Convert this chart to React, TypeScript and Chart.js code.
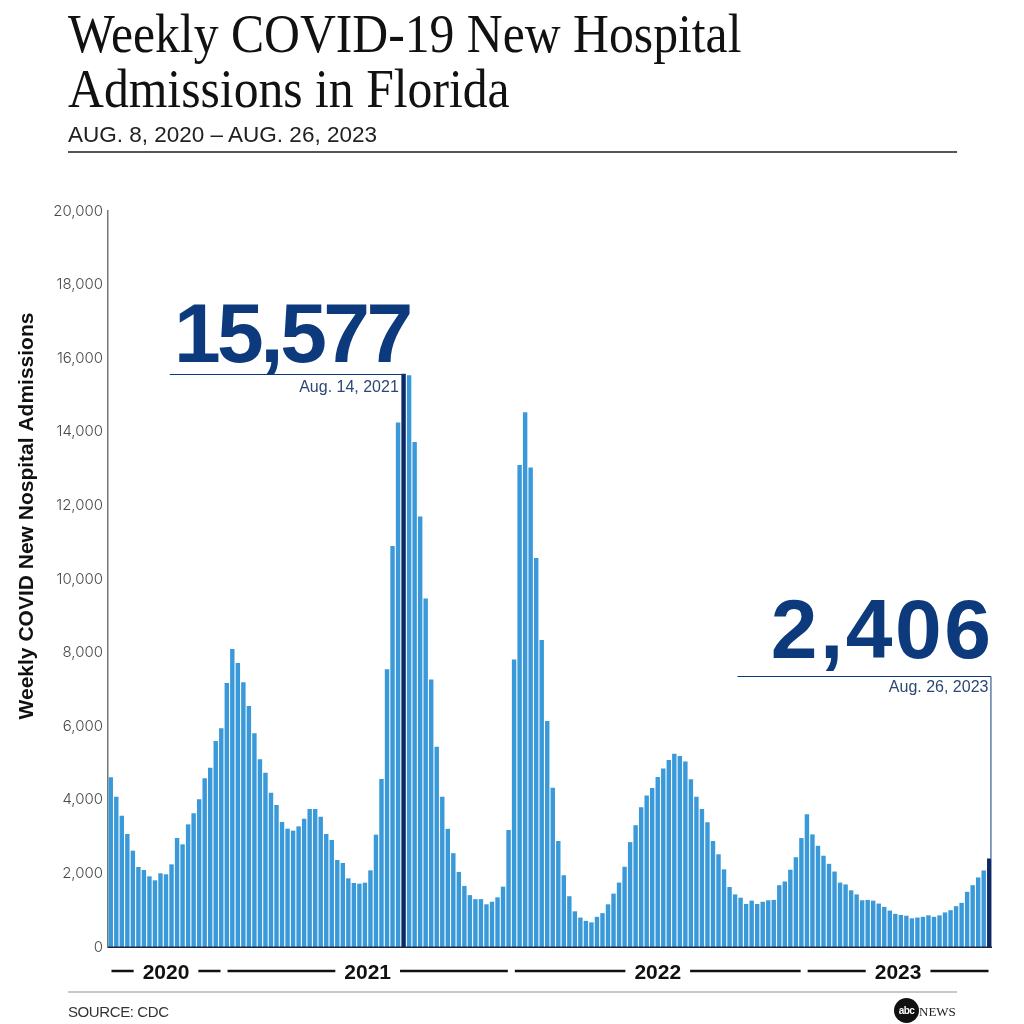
import React, { useEffect, useRef } from "react";
import { Chart, registerables } from "chart.js";

Chart.register(...registerables);

// ---------- DATA ----------
const START_WEEK = "2020-08-08";
const WEEK_COUNT = 160;

const admissions: number[] = [
  4611, 4085, 3569, 3071, 2618, 2174, 2092, 1920, 1812, 2002,
  1975, 2246, 2962, 2790, 3333, 3632, 4013, 4583, 4873, 5598,
  5942, 7174, 8098, 7717, 7192, 6549, 5806, 5100, 4737, 4194,
  3859, 3397, 3216, 3161, 3279, 3487, 3750, 3750, 3542, 3071,
  2908, 2364, 2283, 1866, 1739, 1721, 1748, 2083, 3053, 4565,
  7545, 10900, 14250, 15577, 15540, 13720, 11700, 9470, 7270, 5440,
  4080, 3210, 2550, 2040, 1660, 1410, 1300, 1300, 1160, 1230,
  1350, 1640, 3180, 7810, 13100, 14530, 13030, 10570, 8340, 6140,
  4330, 2880, 1950, 1380, 970, 800, 710, 670, 820, 920,
  1160, 1450, 1750, 2180, 2850, 3310, 3800, 4120, 4320, 4620,
  4850, 5080, 5250, 5190, 5040, 4560, 4080, 3750, 3390, 2880,
  2520, 2110, 1630, 1430, 1340, 1170, 1260, 1170, 1230, 1270,
  1280, 1680, 1780, 2100, 2440, 2960, 3610, 3060, 2750, 2480,
  2260, 2050, 1750, 1700, 1540, 1430, 1270, 1280, 1260, 1180,
  1090, 990, 900, 870, 850, 780, 800, 820, 860, 820,
  860, 940, 1000, 1110, 1200, 1500, 1680, 1890, 2080, 2406,
];

const yearLabels = ["2020", "2021", "2022", "2023"];
const yearStartIndex = [0, 21, 73, 126];

const highlightIndex = [53, 159];
const highlightValueText = ["15,577", "2,406"];
const highlightDateText = ["Aug. 14, 2021", "Aug. 26, 2023"];
const highlightLineLevel: (number | null)[] = [null, 7360];

const yTickMin = 0;
const yTickMax = 20000;
const yTickStep = 2000;

const yAxisTitle = "Weekly COVID New Nospital Admissions";

function buildWeekLabels(): string[] {
  const out: string[] = [];
  const d = new Date(START_WEEK + "T00:00:00Z");
  for (let i = 0; i < WEEK_COUNT; i++) {
    const c = new Date(d.getTime() + i * 7 * 86400000);
    out.push(c.toISOString().slice(0, 10));
  }
  return out;
}
const weekLabels = buildWeekLabels();

// ---------- STYLE ----------
const BAR_BLUE = "#3a9ad9";
const BAR_DARK = "#0e2a66";
const NAVY = "#0c3a7d";

const annotationStyle = [
  { lineLen: 236, numDx: 4, numGap: 13, spacing: "-3.5px", dateDx: -7, dateGap: 17 },
  { lineLen: 254, numDx: 2, numGap: 19, spacing: "2.5px", dateDx: -3, dateGap: 15 },
];

const overlayPlugin = {
  id: "overlay",
  afterDatasetsDraw(chart: any) {
    const { ctx, chartArea, scales } = chart;
    const x = scales.x;
    const y = scales.y;
    const meta = chart.getDatasetMeta(0);

    ctx.save();
    // baseline
    ctx.strokeStyle = "#1b2640";
    ctx.lineWidth = 1.5;
    ctx.beginPath();
    ctx.moveTo(chartArea.left, chartArea.bottom + 0.25);
    ctx.lineTo(chartArea.right, chartArea.bottom + 0.25);
    ctx.stroke();

    // annotations
    highlightIndex.forEach((idx, k) => {
      const bar = meta.data[idx];
      const p = bar.getProps(["x", "y", "width"], true);
      const right = p.x + p.width / 2;
      const lvl = highlightLineLevel[k];
      const lineY = Math.round(lvl == null ? p.y : y.getPixelForValue(lvl)) + 0.5;
      const st = annotationStyle[k];
      ctx.strokeStyle = NAVY;
      ctx.lineWidth = 1;
      ctx.beginPath();
      ctx.moveTo(right - st.lineLen, lineY);
      ctx.lineTo(right - 0.5, lineY);
      if (lvl != null) ctx.lineTo(right - 0.5, p.y);
      ctx.stroke();

      ctx.fillStyle = NAVY;
      ctx.textAlign = "right";
      ctx.textBaseline = "alphabetic";
      ctx.font = 'bold 84px "Liberation Sans", Arial, sans-serif';
      (ctx as any).letterSpacing = st.spacing;
      ctx.fillText(highlightValueText[k], right + st.numDx, lineY - st.numGap);
      (ctx as any).letterSpacing = "0px";
      ctx.fillStyle = "#2d4773";
      ctx.font = '16px "Liberation Sans", Arial, sans-serif';
      ctx.fillText(highlightDateText[k], right + st.dateDx, lineY + st.dateGap);
    });

    // year labels
    const cw = x.getPixelForValue(1) - x.getPixelForValue(0);
    ctx.font = 'bold 21px "Liberation Sans", Arial, sans-serif';
    ctx.fillStyle = "#111";
    ctx.strokeStyle = "#111";
    ctx.lineWidth = 2.5;
    ctx.textAlign = "center";
    const yy = 971;
    yearLabels.forEach((lab, i) => {
      const s = yearStartIndex[i];
      const e = i + 1 < yearStartIndex.length ? yearStartIndex[i + 1] - 1 : WEEK_COUNT - 1;
      const left = x.getPixelForValue(s) - cw / 2 + 3.5;
      const rightEdge = x.getPixelForValue(e) + cw / 2 - 3.5;
      const mid = (left + rightEdge) / 2;
      const w = ctx.measureText(lab).width;
      ctx.fillText(lab, mid, yy + 7.5);
      ctx.beginPath();
      ctx.moveTo(left, yy);
      ctx.lineTo(mid - w / 2 - 9, yy);
      ctx.moveTo(mid + w / 2 + 9, yy);
      ctx.lineTo(rightEdge, yy);
      ctx.stroke();
    });

    // y axis title
    ctx.translate(27, 516);
    ctx.rotate(-Math.PI / 2);
    ctx.textAlign = "center";
    ctx.textBaseline = "middle";
    ctx.font = 'bold 21px "Liberation Sans", Arial, sans-serif';
    ctx.fillStyle = "#111";
    ctx.fillText(yAxisTitle, 0, 0);
    ctx.restore();
  },
};

export default function App() {
  const ref = useRef<HTMLCanvasElement | null>(null);

  useEffect(() => {
    if (!ref.current) return;
    const chart = new Chart(ref.current, {
      type: "bar",
      data: {
        labels: weekLabels,
        datasets: [
          {
            data: admissions,
            backgroundColor: admissions.map((_, i) =>
              highlightIndex.includes(i) ? BAR_DARK : BAR_BLUE
            ),
            borderWidth: 0,
            barPercentage: 0.8,
            categoryPercentage: 1.0,
          },
        ],
      },
      options: {
        responsive: false,
        animation: false,
        devicePixelRatio: 1,
        layout: { padding: { left: 0, right: 32, top: 211, bottom: 77 } },
        plugins: {
          legend: { display: false },
          tooltip: { enabled: false },
          title: { display: false },
        },
        scales: {
          x: { display: false },
          y: {
            min: yTickMin,
            max: yTickMax,
            ticks: {
              stepSize: yTickStep,
              padding: 5,
              color: "#4a4a4a",
              font: { family: "Inter", size: 15, weight: "300" as any },
              callback: (v: any) => Number(v).toLocaleString("en-US"),
            },
            grid: { display: false, drawTicks: false },
            border: { display: true, color: "#777", width: 1.5 },
            afterFit: (s: any) => {
              s.width = 108;
            },
          },
        },
      },
      plugins: [overlayPlugin],
    });
    return () => chart.destroy();
  }, []);

  const serif = '"Liberation Serif", "Times New Roman", serif';
  const sans = '"Liberation Sans", Arial, sans-serif';

  return (
    <div
      style={{
        position: "absolute",
        left: 0,
        top: 0,
        width: 1024,
        height: 1024,
        background: "#fff",
        overflow: "hidden",
      }}
    >
      <canvas
        ref={ref}
        width={1024}
        height={1024}
        style={{ position: "absolute", left: 0, top: 0, display: "block" }}
      />
      <div
        style={{
          position: "absolute",
          left: 68,
          top: 7,
          fontFamily: serif,
          fontSize: 54,
          lineHeight: "55px",
          color: "#111",
          whiteSpace: "nowrap",
          transform: "scaleX(0.92)",
          transformOrigin: "left top",
        }}
      >
        <div>Weekly COVID-19 New Hospital</div>
        <div>Admissions in Florida</div>
      </div>
      <div
        style={{
          position: "absolute",
          left: 68,
          top: 124,
          fontFamily: sans,
          fontSize: 22.5,
          lineHeight: "22px",
          color: "#222",
          whiteSpace: "nowrap",
        }}
      >
        AUG. 8, 2020 – AUG. 26, 2023
      </div>
      <div
        style={{
          position: "absolute",
          left: 68,
          top: 151,
          width: 889,
          height: 2,
          background: "#555",
        }}
      />
      <div
        style={{
          position: "absolute",
          left: 68,
          top: 991,
          width: 889,
          height: 1.5,
          background: "#c8c8c8",
        }}
      />
      <div
        style={{
          position: "absolute",
          left: 68,
          top: 1004,
          fontFamily: sans,
          fontSize: 15,
          lineHeight: "15px",
          letterSpacing: "-0.4px",
          color: "#333",
          whiteSpace: "nowrap",
        }}
      >
        SOURCE: CDC
      </div>
      <div
        style={{
          position: "absolute",
          left: 894,
          top: 998,
          width: 25,
          height: 25,
          borderRadius: "50%",
          background: "#111",
          color: "#fff",
          fontFamily: sans,
          fontWeight: "bold",
          fontSize: 10,
          lineHeight: "25px",
          textAlign: "center",
          letterSpacing: "-0.5px",
        }}
      >
        abc
      </div>
      <div
        style={{
          position: "absolute",
          left: 919,
          top: 1005,
          fontFamily: serif,
          fontSize: 13,
          lineHeight: "13px",
          color: "#222",
          whiteSpace: "nowrap",
        }}
      >
        NEWS
      </div>
    </div>
  );
}
